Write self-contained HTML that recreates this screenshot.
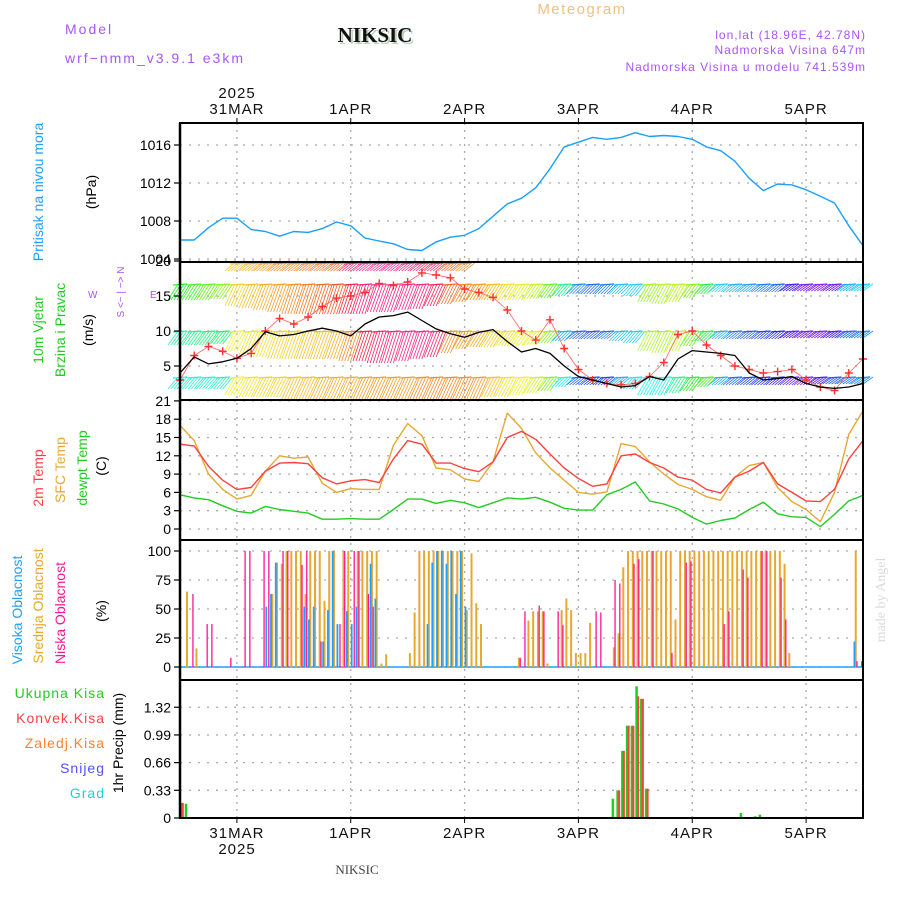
<!DOCTYPE html>
<html><head><meta charset="utf-8"><style>
html,body{margin:0;padding:0;background:#fff;}
svg{display:block;font-family:"Liberation Sans",sans-serif;}
</style></head><body>
<svg id="chart" width="900" height="900" viewBox="0 0 900 900" xmlns="http://www.w3.org/2000/svg">
<rect x="0" y="0" width="900" height="900" fill="#fff"/>
<g id="texts">
<text x="65" y="34" fill="#a855f7" font-size="14" letter-spacing="2">Model</text>
<text x="65" y="63" fill="#a855f7" font-size="14" letter-spacing="2">wrf−nmm_v3.9.1 e3km</text>
<text x="377" y="44" text-anchor="middle" fill="#b8d0b8" font-family="Liberation Serif,serif" font-weight="bold" font-size="21">NIKSIC</text>
<text x="375" y="42" text-anchor="middle" fill="#111" font-family="Liberation Serif,serif" font-weight="bold" font-size="21">NIKSIC</text>
<text x="582" y="14" text-anchor="middle" fill="#f0c080" font-size="15" letter-spacing="1.5">Meteogram</text>
<text x="866" y="39" text-anchor="end" fill="#a855f7" font-size="12" letter-spacing="1">lon,lat (18.96E, 42.78N)</text>
<text x="866" y="54" text-anchor="end" fill="#a855f7" font-size="12" letter-spacing="1">Nadmorska Visina 647m</text>
<text x="866" y="71" text-anchor="end" fill="#a855f7" font-size="12" letter-spacing="1">Nadmorska Visina u modelu 741.539m</text>
<text x="357" y="874" text-anchor="middle" fill="#444" font-family="Liberation Serif,serif" font-size="13">NIKSIC</text>
<text transform="translate(885,600) rotate(-90)" text-anchor="middle" fill="#d8dcd8" font-family="Liberation Serif,serif" font-size="14">made by Angel</text>

<text transform="translate(43,192) rotate(-90)" text-anchor="middle" fill="#1ea0ff" font-size="14">Pritisak na nivou mora</text>
<text transform="translate(96,192) rotate(-90)" text-anchor="middle" fill="#000" font-size="14">(hPa)</text>
<text transform="translate(43,330) rotate(-90)" text-anchor="middle" fill="#22cc22" font-size="14">10m Vjetar</text>
<text transform="translate(65,330) rotate(-90)" text-anchor="middle" fill="#22cc22" font-size="14">Brzina i Pravac</text>
<text transform="translate(93,330) rotate(-90)" text-anchor="middle" fill="#000" font-size="14">(m/s)</text>
<text transform="translate(124,292) rotate(-90)" text-anchor="middle" fill="#a855f7" font-size="10">S &lt;− | −&gt; N</text>
<text x="88" y="298" fill="#a855f7" font-size="10">W</text>
<text x="150" y="298" fill="#a855f7" font-size="10">E</text>
<text transform="translate(43,478) rotate(-90)" text-anchor="middle" fill="#ff4040" font-size="14">2m Temp</text>
<text transform="translate(65,470) rotate(-90)" text-anchor="middle" fill="#e8a830" font-size="14">SFC Temp</text>
<text transform="translate(87,468) rotate(-90)" text-anchor="middle" fill="#22cc22" font-size="14">dewpt Temp</text>
<text transform="translate(106,466) rotate(-90)" text-anchor="middle" fill="#000" font-size="14">(C)</text>
<text transform="translate(22,610) rotate(-90)" text-anchor="middle" fill="#1ea0ff" font-size="14">Visoka Oblacnost</text>
<text transform="translate(43,606) rotate(-90)" text-anchor="middle" fill="#e8a830" font-size="14">Srednja Oblacnost</text>
<text transform="translate(65,613) rotate(-90)" text-anchor="middle" fill="#ff1493" font-size="14">Niska Oblacnost</text>
<text transform="translate(106,611) rotate(-90)" text-anchor="middle" fill="#000" font-size="14">(%)</text>
<text x="105" y="698" text-anchor="end" fill="#22cc22" font-size="14" letter-spacing="1">Ukupna Kisa</text>
<text x="105" y="723" text-anchor="end" fill="#ff4040" font-size="14" letter-spacing="1">Konvek.Kisa</text>
<text x="105" y="748" text-anchor="end" fill="#ff7f30" font-size="14" letter-spacing="1">Zaledj.Kisa</text>
<text x="105" y="773" text-anchor="end" fill="#5050ff" font-size="14" letter-spacing="1">Snijeg</text>
<text x="105" y="798" text-anchor="end" fill="#20d0d0" font-size="14" letter-spacing="1">Grad</text>
<text transform="translate(123,743) rotate(-90)" text-anchor="middle" fill="#000" font-size="14">1hr Precip (mm)</text>
</g>
<g id="grid"></g>
<g id="marks"></g>
<g id="axes"></g>
</svg>
<script>
const dayLabels = ["31MAR","1APR","2APR","3APR","4APR","5APR"];
const pressure = [1006.0,1006.0,1007.3,1008.3,1008.3,1007.1,1006.9,1006.4,1006.9,1006.8,1007.2,1007.9,1007.5,1006.2,1005.9,1005.6,1005.0,1004.9,1005.8,1006.3,1006.5,1007.2,1008.5,1009.8,1010.4,1011.5,1013.5,1015.8,1016.3,1016.8,1016.6,1016.8,1017.3,1016.9,1017.0,1016.9,1016.6,1015.8,1015.4,1014.3,1012.5,1011.2,1011.9,1011.8,1011.3,1010.6,1009.9,1007.5,1005.4];
const windSpeed = [4.0,6.3,5.3,5.6,6.1,7.5,9.9,9.3,9.5,10.0,10.4,10.0,9.3,11.0,12.0,12.2,12.7,11.5,10.3,9.6,9.1,9.8,10.2,8.5,7.0,7.5,6.8,5.0,3.5,3.0,2.5,2.0,2.2,3.5,3.0,6.0,7.2,7.0,6.8,6.5,4.0,3.0,3.2,3.5,2.5,2.0,1.8,2.0,2.5];
const windGust = [3.0,6.5,7.8,7.1,6.1,6.8,10.0,11.8,11.0,12.0,13.5,14.7,15.0,15.5,16.8,16.5,17.0,18.3,18.0,17.6,16.0,15.5,14.8,13.0,10.0,8.7,11.6,7.5,4.5,3.0,2.5,2.3,2.5,3.5,5.5,9.5,10.0,8.0,6.5,5.0,4.5,4.0,4.2,4.5,3.0,2.0,1.5,4.0,6.0];
const hueTop = [-1,-1,-1,-1,45,40,35,30,30,25,25,20,340,330,330,330,335,340,345,20,30,-1,-1,-1,-1,-1,-1,-1,-1,-1,-1,-1,-1,-1,-1,-1,-1,-1,-1,-1,-1,-1,-1,-1,-1,-1,-1,-1,-1];
const hueB = [120,110,100,90,50,45,40,35,30,25,20,15,350,335,330,330,330,335,345,20,30,35,45,55,65,75,100,150,210,220,215,195,190,85,80,75,90,130,190,200,205,215,220,250,265,270,260,200,190];
const lenB = [16,16,16,15,22,24,26,28,30,30,30,30,30,30,28,28,26,25,22,20,18,16,16,16,16,15,14,12,10,10,10,10,12,18,20,18,14,10,8,8,8,8,8,7,7,7,7,7,7];
const hueC = [160,150,145,140,60,55,55,50,50,45,45,40,30,350,340,335,330,330,340,30,35,40,50,55,60,65,90,200,220,225,215,195,190,80,80,75,100,130,200,215,225,230,240,255,265,265,250,220,210];
const lenC = [14,14,14,13,20,24,26,28,28,28,28,28,30,30,32,32,30,28,26,22,18,16,16,15,15,14,12,10,8,8,8,10,12,20,22,20,15,10,8,8,8,8,8,7,7,7,7,7,7];
const hueD = [175,170,170,165,60,55,50,50,45,45,40,40,40,35,35,35,35,30,30,30,30,35,45,55,60,70,90,180,220,230,230,200,185,180,175,150,120,110,200,220,230,235,245,260,265,250,225,215,210];
const lenD = [12,12,12,12,18,20,20,20,22,22,22,22,22,22,22,22,22,22,22,22,22,22,20,20,18,16,14,10,8,8,8,8,12,18,18,16,14,10,8,8,8,8,8,8,8,7,7,7,7];
const temp2m = [13.9,13.6,10.3,8.0,6.5,6.8,9.5,10.8,10.9,10.7,8.4,7.4,7.9,8.1,7.6,11.5,14.5,13.9,10.8,10.8,9.9,9.4,11.0,15.0,16.0,14.7,12.3,10.0,8.3,7.0,7.4,12.0,12.3,10.9,10.0,8.5,8.0,6.5,5.9,8.5,9.5,10.9,7.4,6.0,4.6,4.5,6.5,11.5,14.5];
const tempSfc = [17.0,14.5,9.0,6.5,4.9,5.5,9.5,12.0,11.6,11.8,7.5,6.0,6.6,6.5,6.5,13.7,17.3,15.3,10.0,9.7,8.2,7.8,11.0,19.0,16.5,12.5,10.0,8.0,6.0,5.7,6.1,14.0,13.5,11.0,9.0,7.3,6.5,5.3,4.7,8.5,10.4,10.9,6.8,4.5,3.2,1.2,6.0,15.5,19.4];
const dewpt = [5.6,5.1,4.8,3.8,2.9,2.6,3.7,3.2,2.9,2.6,1.6,1.6,1.7,1.6,1.6,3.2,4.9,4.9,4.2,4.7,4.3,3.5,4.3,5.1,4.9,5.2,4.4,3.4,3.1,3.1,5.6,6.5,7.7,4.6,4.1,3.3,1.9,0.8,1.4,1.8,3.2,4.4,2.5,2.0,1.9,0.4,2.4,4.6,5.5];
const highHours = [18,19,20,26,27,28,30,31,32,33,35,36,37,40,41,52,53,54,55,56,57,58,59,60,142];
const highPct =   [52,63,90,52,41,52,22,49,100,37,48,37,52,89,59,37,90,100,100,89,100,63,100,52,22];
const midHours = [1,3,19,20,21,22,23,24,25,26,27,28,29,30,31,32,34,35,37,38,39,40,41,42,43,48,49,50,51,52,53,54,55,56,57,58,59,60,61,62,63,71,73,74,75,76,77,80,81,82,83,84,85,86,91,92,93,94,95,96,97,98,99,100,101,102,103,104,105,106,107,108,109,110,111,112,113,114,115,116,117,118,119,120,121,122,123,124,125,126,127,128,142];
const midPct =   [65,16,63,90,89,100,100,100,100,63,100,100,100,57,100,100,100,100,100,100,100,100,100,3,11,12,47,100,100,100,100,100,100,100,100,100,100,49,98,55,37,8,40,48,48,48,3,49,59,49,12,12,12,38,17,29,86,100,100,100,100,100,100,100,100,100,100,41,100,100,100,100,100,100,100,100,100,100,100,100,100,100,100,100,100,100,100,100,100,100,89,12,100];
const lowHours = [2,5,6,10,13,14,17,18,21,22,25,26,29,33,34,36,37,39,40,71,72,75,76,79,80,87,88,91,92,95,96,99,103,106,107,114,115,118,119,122,123,126,127,142,143];
const lowPct =   [63,37,37,8,100,100,100,100,100,100,88,100,22,37,100,100,100,63,52,8,48,53,48,48,36,48,47,75,72,89,93,100,12,90,91,37,48,84,77,100,100,77,41,5,5];
const rainHours = [0,1,91,92,93,94,95,96,97,98,118,121,122];
const rainTotal = [0.18,0.17,0.23,0.33,0.80,1.10,1.10,1.57,1.42,0.35,0.06,0.02,0.04];
const rainConv =  [0.18,0.0,0.0,0.33,0.80,1.10,1.10,1.45,1.42,0.35,0.0,0.0,0.0];
const pTicks = [1004,1008,1012,1016];
const wTicks = [5,10,15,20];
const tTicks = [0,3,6,9,12,15,18,21];
const cTicks = [0,25,50,75,100];
const rTicks = [0,0.33,0.66,0.99,1.32];

const X0 = 180, X1 = 863, HX = (X1 - X0) / 144;
const xH = h => X0 + h * HX;
const x3 = i => X0 + i * 3 * HX;
const yP = v => 259 - (v - 1004) * 9.5;
const yW = v => 401 - v * 7;
const yT = v => 529 - v * 6.1;
const yC = v => 667 - v * 1.16;
const yR = v => 818 - v * 83.9;
const panels = [[123,262],[262,400],[400,540],[540,680],[680,818]];
const NS = "http://www.w3.org/2000/svg";
function mk(parent, tag, attrs) {
  const e = document.createElementNS(NS, tag);
  for (const k in attrs) e.setAttribute(k, attrs[k]);
  parent.appendChild(e); return e;
}
const grid = document.getElementById('grid'), marks = document.getElementById('marks'), axes = document.getElementById('axes');

dayLabels.forEach((d, k) => {
  const x = xH(12 + 24 * k);
  const l = mk(grid, 'line', {x1:x, x2:x, y1:123, y2:818, stroke:'#aaa', 'stroke-dasharray':'2 5', 'stroke-width':1.3});
  
  
  const t = mk(axes, 'text', {x:x, y:114, 'text-anchor':'middle', 'font-size':15, fill:'#111', 'letter-spacing':1});
  t.textContent = d;
  
  
  const b = mk(axes, 'text', {x:x, y:838, 'text-anchor':'middle', 'font-size':15, fill:'#111', 'letter-spacing':1});
  b.textContent = d;
  
  
  for (const yy of [118, 818]) mk(axes, 'line', {x1:x, x2:x, y1:yy, y2:yy+5, stroke:'#000'});
});
[[237,98],[237,854]].forEach(p => {
  const t = mk(axes, 'text', {x:p[0], y:p[1], 'text-anchor':'middle', 'font-size':15, fill:'#111', 'letter-spacing':1});
  t.textContent = '2025';
  
  
});

function yTicks(ticks, yf, fmt) {
  ticks.forEach(v => {
    const y = yf(v);
    const g = mk(grid, 'line', {x1:X0, x2:X1, y1:y, y2:y, stroke:'#aaa', 'stroke-dasharray':'2 7', 'stroke-width':1.3});
    
    
    mk(axes, 'line', {x1:X0-6, x2:X0, y1:y, y2:y, stroke:'#000', 'stroke-width':1.2});
    const t = mk(axes, 'text', {x:X0-9, y:y+5, 'text-anchor':'end', 'font-size':14, fill:'#000'});
    t.textContent = fmt(v);
    
    
  });
}
yTicks(pTicks, yP, v => v);
yTicks(wTicks, yW, v => v);
yTicks(tTicks, yT, v => v);
yTicks(cTicks, yC, v => v);
yTicks(rTicks, yR, v => v === 0 ? '0' : v.toFixed(2));

function line(vals, fx, fy, color, w, name) {
  const d = vals.map((v, i) => (i ? 'L' : 'M') + fx(i).toFixed(1) + ' ' + fy(v).toFixed(1)).join(' ');
  const p = mk(marks, 'path', {d:d, fill:'none', stroke:color, 'stroke-width':w, 'stroke-linejoin':'round'});
  
  
}
line(pressure, x3, yP, '#1a9fff', 1.4, 'pressure-line');

function band(hues, lens, topY, name) {
  hues.forEach((h, i) => {
    if (h < 0) return;
    const len = lens ? lens[i] : 8;
    const col = 'hsl(' + h + ',90%,55%)';
    const g = mk(marks, 'g', {stroke:col, 'stroke-width':0.8});
    
    
    const xs = x3(i);
    mk(g, 'line', {x1:xs-7, x2:xs+7, y1:topY+1, y2:topY, 'stroke-width':1.2});
    for (let k = -7; k < 7; k += 3) {
      mk(g, 'line', {x1:xs+k+5, y1:topY, x2:xs+k-5, y2:topY+len});
    }
  });
}
band(hueTop, null, 263, 'wind-barbs-upper');
band(hueB, lenB, 284, 'wind-barbs-band-1');
band(hueC, lenC, 331, 'wind-barbs-band-2');
band(hueD, lenD, 377, 'wind-barbs-band-3');
line(windGust, x3, yW, '#ff6060', 0.8, 'gust-line');
windGust.forEach((v, i) => {
  const x = x3(i), y = yW(v);
  const g = mk(marks, 'path', {d:`M${x-4} ${y}H${x+4}M${x} ${y-4}V${y+4}`, stroke:'#ff3030', 'stroke-width':1.4});
  
  
});
line(windSpeed, x3, yW, '#000', 1.3, 'wind-speed-line');

line(dewpt, x3, yT, '#22cc22', 1.4, 'dewpoint-line');
line(tempSfc, x3, yT, '#e8a830', 1.4, 'sfc-temp-line');
line(temp2m, x3, yT, '#ff4040', 1.4, 'temp-2m-line');

const base = mk(marks, 'line', {x1:X0, x2:X1, y1:667, y2:667, stroke:'#1ea0ff', 'stroke-width':1.5});


function bars(hours, vals, off, w, color, yf, zero, name) {
  hours.forEach((h, k) => {
    const x = xH(h) + off, y = yf(vals[k]);
    if (vals[k] <= 0) return;
    const r = mk(marks, 'rect', {x:x, y:y, width:w, height:Math.max(0, zero - y), fill:color});
    
    
  });
}
bars(midHours, midPct, 1.2, 2, '#e8a830', yC, 667, 'mid-cloud-bar');
bars(highHours, highPct, 0, 1.8, '#1ea0ff', yC, 667, 'high-cloud-bar');
bars(lowHours, lowPct, 2.8, 1.3, '#ff1493', yC, 667, 'low-cloud-bar');

bars(rainHours, rainTotal, 0, 2.5, '#22cc22', yR, 818, 'total-rain-bar');
bars(rainHours, rainConv, 1.8, 2, '#ff4040', yR, 818, 'conv-rain-bar');

panels.forEach(p => {
  const r = mk(axes, 'rect', {x:X0, y:p[0], width:X1-X0, height:p[1]-p[0], fill:'none', stroke:'#000', 'stroke-width':2});
  
  
});
mk(axes, 'line', {x1:X0, x2:X0, y1:123, y2:818, stroke:'#000', 'stroke-width':2.5});
</script>
</body></html>
